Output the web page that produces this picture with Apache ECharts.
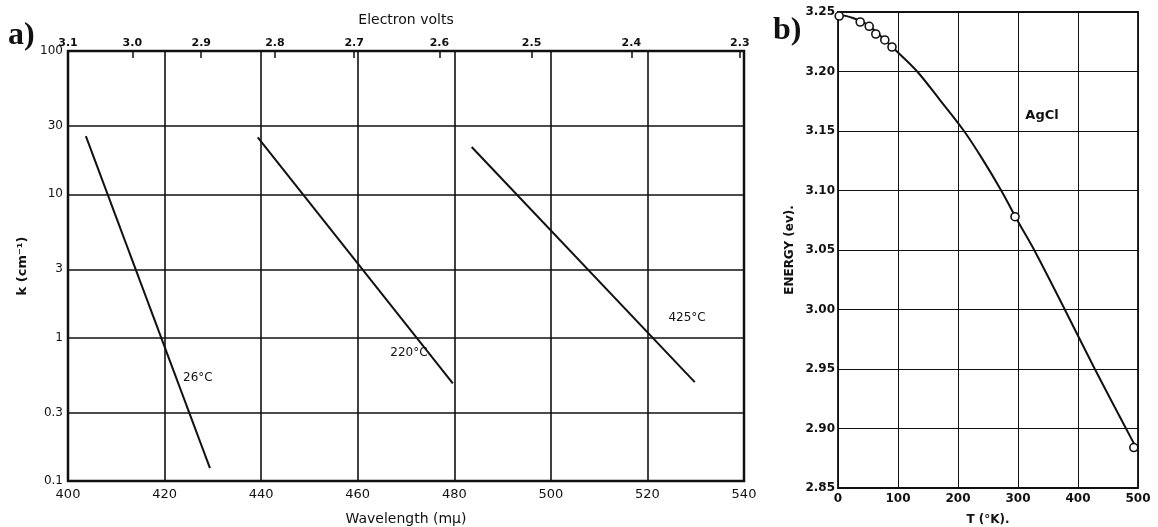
<!DOCTYPE html>
<html><head><meta charset="utf-8">
<script src="https://cdn.jsdelivr.net/npm/echarts@6/dist/echarts.min.js"></script>
<style>html,body{margin:0;padding:0;background:#fff}#c{width:1158px;height:527px}</style>
</head><body><div id="c"></div>
<script>
// ---- Panel a data ----
const wavelengthTicks = [400, 420, 440, 460, 480, 500, 520, 540];
const kTicks = [0.1, 0.3, 1, 3, 10, 30, 100];
const eVTicks = [3.1, 3.0, 2.9, 2.8, 2.7, 2.6, 2.5, 2.4, 2.3];
const line26C = [[403.7, 25.5], [429.4, 0.123]];
const line220C = [[439.3, 25], [479.7, 0.48]];
const line425C = [[483.6, 21.4], [529.8, 0.49]];
// ---- Panel b data ----
const tempTicks = [0, 100, 200, 300, 400, 500];
const energyTicks = [2.85, 2.90, 2.95, 3.00, 3.05, 3.10, 3.15, 3.20, 3.25];
const agclT = [2, 37, 52, 63, 78, 90, 295, 493];
const agclE = [3.2466, 3.2416, 3.238, 3.2315, 3.2265, 3.2206, 3.078, 2.884];
const curveT = [0, 25, 50, 75, 100, 132, 170, 210, 240, 272, 300, 327, 378, 428, 480, 500];
const curveE = [3.248, 3.245, 3.239, 3.228, 3.216, 3.20, 3.176, 3.15, 3.127, 3.10, 3.074, 3.05, 3.00, 2.95, 2.90, 2.881];

const HC = 1240; // eV*nm
const INK = '#111';
const FONT = 'DejaVu Sans';

const chart = echarts.init(document.getElementById('c'), null, {renderer: 'canvas'});
const lbl = (o) => Object.assign({color: INK, fontFamily: FONT, fontSize: 12}, o || {});
const curveLabel = (name, coord) => ({
  symbol: 'circle', symbolSize: 1, itemStyle: {color: 'rgba(0,0,0,0)'},
  label: {show: true, position: 'inside', formatter: name, color: INK, fontFamily: FONT, fontSize: 12},
  data: [{coord: coord}]
});

const option = {
  animation: false,
  backgroundColor: '#fff',
  grid: [
    {left: 68, top: 51, right: 414, bottom: 46, outerBoundsMode: 'none', containLabel: false,
     show: true, borderColor: INK, borderWidth: 2.5, backgroundColor: 'transparent'},
    {left: 838, top: 12, right: 20, bottom: 39, outerBoundsMode: 'none', containLabel: false,
     show: true, borderColor: INK, borderWidth: 1.8, backgroundColor: 'transparent'}
  ],
  xAxis: [
    {gridIndex: 0, type: 'value', min: 400, max: 540, interval: 20, position: 'bottom',
     name: 'Wavelength (m\u03BC)', nameLocation: 'middle', nameGap: 31,
     nameTextStyle: lbl({fontSize: 14}),
     axisLine: {show: false}, axisTick: {show: false},
     axisLabel: lbl({margin: 7, fontSize: 13}),
     splitLine: {show: true, lineStyle: {color: INK, width: 1.6}}},
    {gridIndex: 0, type: 'value', min: 400, max: 540, position: 'top',
     name: 'Electron volts', nameLocation: 'middle', nameGap: 24,
     nameTextStyle: lbl({fontSize: 14}),
     axisLine: {show: false},
     axisTick: {show: true, inside: true, length: 7, lineStyle: {color: INK, width: 1.5},
                customValues: eVTicks.map(e => Math.round(HC / e * 100) / 100)},
     axisLabel: lbl({margin: 2, fontSize: 11, fontWeight: 'bold',
                customValues: eVTicks.map(e => Math.round(HC / e * 100) / 100),
                formatter: v => (HC / v).toFixed(1)}),
     splitLine: {show: false}},
    {gridIndex: 1, type: 'value', min: 0, max: 500, interval: 100,
     name: 'T (\u00B0K).', nameLocation: 'middle', nameGap: 26,
     nameTextStyle: lbl({fontSize: 12, fontWeight: 'bold'}),
     axisLine: {show: false}, axisTick: {show: false},
     axisLabel: lbl({margin: 5, fontSize: 12, fontWeight: 'bold'}),
     splitLine: {show: true, lineStyle: {color: INK, width: 1}}}
  ],
  yAxis: [
    {gridIndex: 0, type: 'log', logBase: 10, min: 0.1, max: 100,
     name: 'k (cm\u207B\u00B9)', nameLocation: 'middle', nameGap: 34, nameRotate: 90,
     nameTextStyle: lbl({fontSize: 13, fontWeight: 'bold'}),
     axisLine: {show: false},
     axisTick: {show: false, customValues: kTicks},
     axisLabel: lbl({margin: 5, fontSize: 12, customValues: kTicks, formatter: v => String(v)}),
     splitLine: {show: true, lineStyle: {color: INK, width: 1.6}}},
    {gridIndex: 1, type: 'value', min: 2.85, max: 3.25, interval: 0.05,
     name: 'ENERGY (ev).', nameLocation: 'middle', nameGap: 42, nameRotate: 90,
     nameTextStyle: lbl({fontSize: 12, fontWeight: 'bold'}),
     axisLine: {show: false}, axisTick: {show: false},
     axisLabel: lbl({margin: 3, fontSize: 12, fontWeight: 'bold', formatter: v => v.toFixed(2)}),
     splitLine: {show: true, lineStyle: {color: INK, width: 1}}}
  ],
  series: [
    {type: 'line', xAxisIndex: 0, yAxisIndex: 0, data: line26C, symbol: 'none',
     lineStyle: {color: INK, width: 2}, markPoint: curveLabel('26\u00B0C', [426.9, 0.52])},
    {type: 'line', xAxisIndex: 0, yAxisIndex: 0, data: line220C, symbol: 'none',
     lineStyle: {color: INK, width: 2}, markPoint: curveLabel('220\u00B0C', [470.6, 0.78])},
    {type: 'line', xAxisIndex: 0, yAxisIndex: 0, data: line425C, symbol: 'none',
     lineStyle: {color: INK, width: 2}, markPoint: curveLabel('425\u00B0C', [528.2, 1.37])},
    {type: 'line', xAxisIndex: 2, yAxisIndex: 1, data: curveT.map((t, i) => [t, curveE[i]]),
     symbol: 'none', smooth: 0.35, lineStyle: {color: INK, width: 2},
     markPoint: {symbol: 'circle', symbolSize: 1, itemStyle: {color: 'rgba(0,0,0,0)'},
       label: {show: true, position: 'inside', formatter: 'AgCl', color: INK, fontFamily: FONT, fontSize: 13, fontWeight: 'bold'},
       data: [{coord: [340, 3.1626]}]}},
    {type: 'scatter', xAxisIndex: 2, yAxisIndex: 1, data: agclT.map((t, i) => [t, agclE[i]]),
     symbol: 'circle', symbolSize: 8, itemStyle: {color: '#fff', opacity: 1, borderColor: INK, borderWidth: 1.6}, z: 5}
  ],
  graphic: [
    {type: 'text', left: 8, top: 20, style: {text: 'a)', fontFamily: 'Liberation Serif', fontSize: 32, fontWeight: 'bold', fill: INK}},
    {type: 'text', left: 773, top: 15, style: {text: 'b)', fontFamily: 'Liberation Serif', fontSize: 32, fontWeight: 'bold', fill: INK}}
  ]
};
chart.setOption(option);
</script>
</body></html>
